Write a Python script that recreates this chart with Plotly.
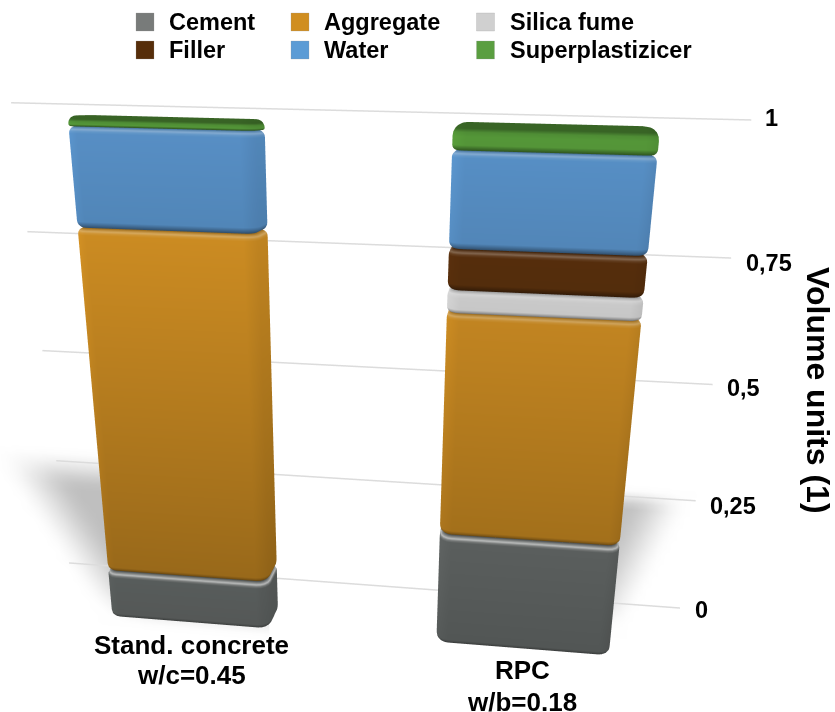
import numpy as np
import plotly.graph_objects as go

# Volume fractions of the two mixes, read per component
category_names = ["Stand. concrete", "RPC"]
mix_ratios = ["w/c=0.45", "w/b=0.18"]
cement = [0.105, 0.235]
aggregate = [0.685, 0.43]
silica_fume = [0.0, 0.04]
filler = [0.0, 0.072]
water = [0.175, 0.165]
superplasticizer = [0.018, 0.045]
tick_values = [0, 0.25, 0.5, 0.75, 1]
tick_labels = ["0", "0,25", "0,5", "0,75", "1"]

COMPONENTS = [
    ("Cement", cement, (86, 90, 89), (120, 123, 122)),
    ("Aggregate", aggregate, (178, 122, 30), (208, 142, 32)),
    ("Silica fume", silica_fume, (200, 200, 200), (208, 208, 208)),
    ("Filler", filler, (84, 45, 12), (86, 46, 10)),
    ("Water", water, (84, 138, 190), (91, 155, 213)),
    ("Superplastizicer", superplasticizer, (84, 150, 56), (90, 158, 64)),
]

W, H = 835, 712
BAR_X = [(0.228, 0.562), (0.895, 1.233)]
BAR_Y = (-0.195, -0.105)
RANGE_X, RANGE_Y, RANGE_Z = (-0.7, 2.1), (-0.7, 0.3), (-0.5, 1.4)

# Camera pose in data units (one value unit = one scene unit)
EYE = np.array([0.985, -1.651, 1.014])
FORWARD = np.array([-0.0907, 0.9553, -0.2809])
UP = np.array([-0.0489, 0.2779, 0.9595])

FLAT = dict(ambient=1, diffuse=0, specular=0, fresnel=0, roughness=1)


def clamp(c):
    return int(max(0, min(255, round(c))))


def smooth(t):
    t = np.clip(t, 0, 1)
    return t * t * (3 - 2 * t)


def vertex_colour(base, nx, nz, grad, dark_top, gloss):
    # Baked shading: flat fronts, a bright roll on upper bevels, darker undersides
    s = grad * (1 - 0.06 * nx)
    white = 0.0
    if nz > 0 and dark_top:
        s *= 1 - 0.34 * smooth((nz - 0.2) / 0.4)
    elif nz > 0:
        s *= 1 - 0.25 * nz ** 4
        white = gloss * max(0.0, 1 - abs(nz - 0.6) / 0.4)
    else:
        s *= 1 - 0.45 * abs(nz)
    return "rgb(%d,%d,%d)" % tuple(clamp(c * s + (255 - c * s) * white) for c in base)


def rounded_box(x0, x1, y0, y1, z0, z1, base, name, is_top):
    plan_r = 0.024
    gloss = 0.6 if name == "Cement" else 0.28
    bevel_low = min(0.012, (z1 - z0) * 0.2)
    bevel_high = min(0.022, (z1 - z0) * 0.78) if is_top else min(0.012, (z1 - z0) * 0.45)
    arc = np.linspace(0, np.pi / 2, 6)
    zmid = (z0 + z1) / 2
    rings = [(z0 + bevel_low * (1 - np.cos(a)), -np.cos(a), bevel_low) for a in arc]
    rings += [(z1 - bevel_high * (1 - np.sin(a)), np.sin(a), bevel_high) for a in arc]
    corners = [(x1, y0, -np.pi / 2), (x1, y1, 0), (x0, y1, np.pi / 2), (x0, y0, np.pi)]
    xs, ys, zs, cols = [], [], [], []
    for z, nz, bevel in rings:
        side = np.sqrt(max(0, 1 - nz * nz))
        inset = bevel * (1 - side)
        for cx, cy, start in corners:
            sx = 1 if cx == x0 else -1
            sy = 1 if cy == y0 else -1
            for t in np.linspace(0, np.pi / 2, 5):
                ang = start + t
                r = max(plan_r - inset, 0.002)
                xs.append(cx + sx * plan_r + r * np.cos(ang))
                ys.append(cy + sy * plan_r + r * np.sin(ang))
                zs.append(z)
                cols.append(vertex_colour(base, np.cos(ang) * side, nz, 1 + 0.42 * (z - zmid), is_top, gloss))
    per = 20
    nr = len(rings)
    i, j, k = [], [], []
    for r in range(nr - 1):
        for p in range(per):
            a = r * per + p
            b = r * per + (p + 1) % per
            c = (r + 1) * per + p
            d = (r + 1) * per + (p + 1) % per
            i += [a, b]
            j += [b, d]
            k += [c, c]
    # closing caps
    for z, nz, off in ((z0, -1, 0), (z1, 1, (nr - 1) * per)):
        centre = len(xs)
        xs.append((x0 + x1) / 2)
        ys.append((y0 + y1) / 2)
        zs.append(z)
        cols.append(vertex_colour(base, 0, nz, 1 + 0.42 * (z - zmid), is_top, gloss))
        for p in range(per):
            i.append(centre)
            j.append(off + p)
            k.append(off + (p + 1) % per)
    return go.Mesh3d(x=xs, y=ys, z=zs, i=i, j=j, k=k, vertexcolor=cols, name=name,
                     flatshading=False, hoverinfo="skip", lighting=FLAT)


def shadow_patch(xr, zr, strength):
    gx = np.linspace(*xr, 50)
    gz = np.linspace(*zr, 40)
    X, Z = np.meshgrid(gx, gz)
    g = 255 * (1 - strength(X, Z))
    n = len(gx)
    idx = lambda a, b: a * n + b
    i, j, k = [], [], []
    for a in range(len(gz) - 1):
        for b in range(n - 1):
            i += [idx(a, b), idx(a, b + 1)]
            j += [idx(a, b + 1), idx(a + 1, b + 1)]
            k += [idx(a + 1, b), idx(a + 1, b)]
    cols = ["rgb(%d,%d,%d)" % (v, v, v) for v in g.ravel().astype(int)]
    return go.Mesh3d(x=X.ravel(), y=np.full(X.size, 0.02), z=Z.ravel(), i=i, j=j, k=k,
                     vertexcolor=cols, hoverinfo="skip", lighting=FLAT)


def left_shadow(X, Z):
    edge = 0.01 - 0.567 * Z
    return 0.25 * smooth((0.27 - Z) / 0.1) * smooth((X - edge) / 0.17) * smooth((Z + 0.17) / 0.1)


def right_shadow(X, Z):
    edge = 1.325 + 0.338 * Z
    return 0.24 * smooth((0.26 - Z) / 0.05) * smooth((edge - X) / 0.13) * smooth((Z + 0.1) / 0.1)


fig = go.Figure()
fig.add_trace(shadow_patch((-0.35, 0.5), (-0.3, 0.38), left_shadow))
fig.add_trace(shadow_patch((1.1, 1.6), (-0.22, 0.34), right_shadow))

# Value gridlines on the back wall; their ends lean slightly inward towards the floor
for v in tick_values:
    grid_span = [0.046 - 0.021 * v, 1.40 + 0.02 * v]
    fig.add_trace(go.Scatter3d(x=grid_span, y=[0, 0], z=[v, v], mode="lines",
                               line=dict(color="#dcdcdc", width=3), hoverinfo="skip"))

# Stacked columns
for b in range(len(category_names)):
    level = 0.0
    for name, values, base, _ in COMPONENTS:
        v = values[b]
        if v > 0:
            fig.add_trace(rounded_box(BAR_X[b][0], BAR_X[b][1], BAR_Y[0], BAR_Y[1], level, level + v,
                                      base, name, name == COMPONENTS[-1][0]))
        level += v

box_centre = np.array([sum(RANGE_X), sum(RANGE_Y), sum(RANGE_Z)]) / 2
eye = EYE - box_centre
centre = EYE + FORWARD - box_centre
hidden = dict(visible=False, showspikes=False)

# Small offsets that seat each tick label beside its gridline
tick_dx = [13, 12.5, 12, 13, 12]
tick_dy = [-2, -5, -4, -5, 2]
tick_notes = [
    dict(x=1.40 + 0.02 * v, y=0, z=v, text=t, showarrow=False, xanchor="left", xshift=dx, yshift=dy,
         font=dict(family="Liberation Sans", size=23.5, color="black", weight="bold"))
    for v, t, dx, dy in zip(tick_values, tick_labels, tick_dx, tick_dy)
]

fig.update_layout(
    width=W, height=H, margin=dict(l=0, r=0, t=0, b=0), paper_bgcolor="white",
    showlegend=False,
    scene=dict(
        domain=dict(x=[0, 1], y=[0, 1]), bgcolor="white", dragmode="orbit",
        xaxis=dict(range=list(RANGE_X), **hidden),
        yaxis=dict(range=list(RANGE_Y), **hidden),
        zaxis=dict(range=list(RANGE_Z), **hidden),
        aspectmode="manual",
        aspectratio=dict(x=RANGE_X[1] - RANGE_X[0], y=RANGE_Y[1] - RANGE_Y[0], z=RANGE_Z[1] - RANGE_Z[0]),
        camera=dict(
            eye=dict(x=eye[0], y=eye[1], z=eye[2]),
            center=dict(x=centre[0], y=centre[1], z=centre[2]),
            up=dict(x=UP[0], y=UP[1], z=UP[2]),
            projection=dict(type="perspective"),
        ),
        annotations=tick_notes,
    ),
)

# Legend, category labels and value-axis title
LEGEND_X = [136, 291, 476.5]
LEGEND_Y = [22, 50]
TEXT_FONT = dict(family="Liberation Sans", size=23.5, color="black", weight="bold")
order = [(0, 0), (1, 0), (2, 0), (0, 1), (1, 1), (2, 1)]
for (name, _, _, swatch), (c, r) in zip(COMPONENTS, order):
    x, y = LEGEND_X[c], LEGEND_Y[r]
    fig.add_shape(type="rect", xref="paper", yref="paper",
                  x0=x / W, x1=(x + 18) / W, y0=1 - (y - 9) / H, y1=1 - (y + 9) / H,
                  fillcolor="rgb(%d,%d,%d)" % swatch, line=dict(color="rgba(150,150,150,0.5)", width=0.5))
    fig.add_annotation(xref="paper", yref="paper", x=(x + 31) / W, y=1 - y / H, text=name,
                       showarrow=False, xanchor="left", yanchor="middle", font=TEXT_FONT)

LABEL_FONT = dict(family="Liberation Sans", size=26, color="black", weight="bold")
for texts, (px, py) in zip(zip(category_names, mix_ratios), [(191, (645, 675)), (522, (670, 702))]):
    for text, line_y in zip(texts, py):
        fig.add_annotation(xref="paper", yref="paper", x=px / W, y=1 - line_y / H, text=text,
                           showarrow=False, xanchor="center", yanchor="middle", font=LABEL_FONT)

fig.add_annotation(xref="paper", yref="paper", x=818 / W, y=1 - 390 / H, text="Volume units (1)",
                   textangle=90, showarrow=False, xanchor="center", yanchor="middle",
                   font=dict(family="Liberation Sans", size=32, color="black", weight="bold"))

fig.write_html("out.html", config=dict(displayModeBar=False))
